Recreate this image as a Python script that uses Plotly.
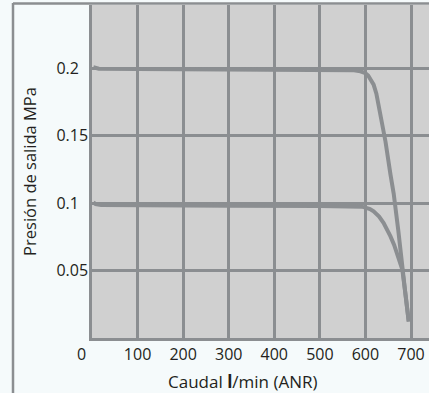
import plotly.graph_objects as go

# Data
flow_hi = [3, 8, 15, 100, 300, 450, 550, 575, 589, 595, 600, 606, 611, 618, 624, 629, 637, 644, 655, 662, 672, 681, 688, 695]
press_hi = [0.2006, 0.1999, 0.1995, 0.1993, 0.199, 0.1988, 0.1986, 0.1984, 0.1976, 0.1970, 0.1962, 0.1945, 0.192, 0.1877, 0.181, 0.173, 0.160, 0.1456, 0.121, 0.107, 0.080, 0.0506, 0.032, 0.0123]

flow_lo = [3, 8, 20, 100, 300, 500, 580, 592, 600, 610, 618, 630, 640, 648, 655, 663, 670, 677, 681, 688, 695]
press_lo = [0.1004, 0.0992, 0.0985, 0.0982, 0.098, 0.0978, 0.0976, 0.0973, 0.0966, 0.0955, 0.0938, 0.090, 0.0852, 0.0805, 0.0753, 0.069, 0.0625, 0.0545, 0.0506, 0.032, 0.0123]

x_ticks = [0, 100, 200, 300, 400, 500, 600, 700]
x_ticktext = ["0\u2007\u2007\u2009", "100", "200", "300", "400", "500", "600", "700"]
y_ticks = [0.05, 0.1, 0.15, 0.2]
y_ticktext = ["0.05", "0.1\u2007", "0.15", "0.2\u2007"]
x_title = "Caudal <b>l</b>/min (ANR)"
y_title = "Presión de salida MPa"

GRAY = "#8b8e91"
FONT = "Open Sans"

fig = go.Figure()
for xs, ys in [(flow_hi, press_hi), (flow_lo, press_lo)]:
    fig.add_trace(go.Scatter(x=xs, y=ys, mode="lines",
                             line=dict(color=GRAY, width=4),
                             showlegend=False, hoverinfo="skip"))

fig.update_layout(
    width=429, height=393,
    margin=dict(l=92, r=0, t=5, b=55),
    paper_bgcolor="#f5fafb",
    plot_bgcolor="#d0d0d0",
    font=dict(family=FONT, size=16, color="#231f20"),
    xaxis=dict(range=[0, 739.5], tickvals=x_ticks, ticktext=x_ticktext,
               showgrid=True, gridcolor=GRAY, gridwidth=2.5,
               showline=True, linecolor=GRAY, linewidth=2.5,
               zeroline=False, ticks="", ticklabelstandoff=0),
    yaxis=dict(range=[0, 0.2467], tickvals=y_ticks, ticktext=y_ticktext,
               showgrid=True, gridcolor=GRAY, gridwidth=2.5,
               showline=True, linecolor=GRAY, linewidth=2.5,
               zeroline=False, ticks="", ticklabelstandoff=-2,
               title=dict(text=y_title, font=dict(size=16.5), standoff=16)),
)

# Outer frame (top and left)
px_w = 429 - 92
px_h = 393 - 5 - 55
def px_x(p):
    return (p - 92) / px_w
def px_y(p):
    return (393 - 55 - p) / px_h

fig.add_annotation(text=x_title, xref="paper", yref="paper",
                   x=px_x(243), y=px_y(382), xanchor="center", yanchor="middle",
                   showarrow=False, font=dict(size=17))

fig.add_shape(type="line", xref="paper", yref="paper",
              x0=px_x(13), x1=px_x(429), y0=px_y(3.5), y1=px_y(3.5),
              line=dict(color=GRAY, width=2.5))
fig.add_shape(type="line", xref="paper", yref="paper",
              x0=px_x(13), x1=px_x(13), y0=px_y(3), y1=px_y(393),
              line=dict(color=GRAY, width=2.5))

fig.write_html("out.html", config={"displayModeBar": False},
               post_script="document.body.style.margin='0';document.body.style.overflow='hidden';")
